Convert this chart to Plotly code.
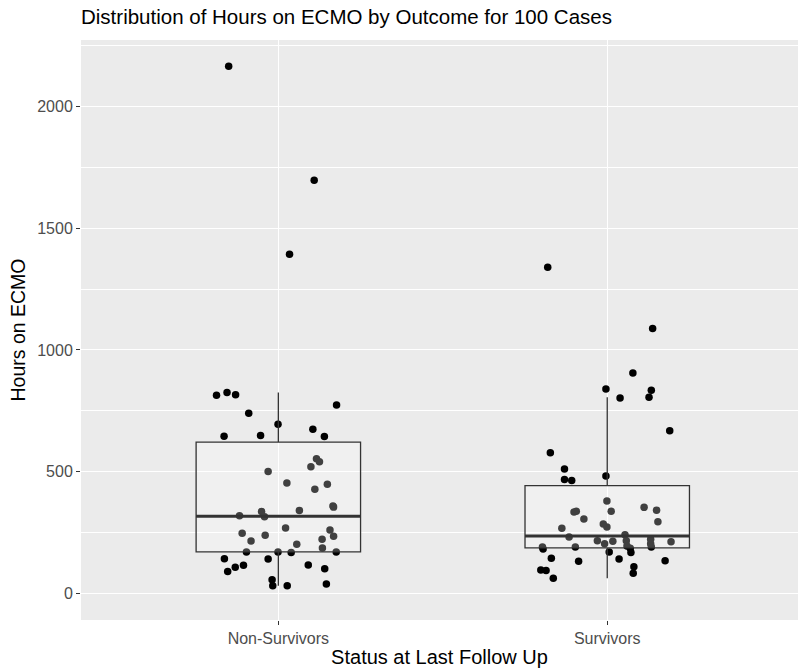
import numpy as np
import plotly.graph_objects as go

# ---------------- data ----------------
categories = ["Non-Survivors", "Survivors"]

non_survivors_hours = [2166, 1698, 1393, 814, 825, 816, 774, 740, 695, 645,
                       648, 674, 644, 553, 540, 520, 500, 453, 427, 448,
                       359, 354, 340, 336, 319, 314, 268, 247, 238, 260,
                       234, 215, 222, 201, 186, 170, 170, 167, 170, 142,
                       89, 107, 115, 141, 116, 101, 55, 31, 31, 38]
non_survivors_jitter = [-0.151, 0.109, 0.034, -0.188, -0.156, -0.130, 0.177, -0.090, -0.001, -0.165,
                        -0.054, 0.105, 0.140, 0.116, 0.125, 0.099, -0.031, 0.026, 0.111, 0.149,
                        0.166, 0.168, 0.064, -0.051, -0.118, -0.042, 0.022, -0.110, -0.040, 0.157,
                        0.168, -0.083, 0.133, 0.056, 0.134, -0.097, -0.001, 0.039, 0.176, -0.164,
                        -0.154, -0.131, -0.106, -0.031, 0.091, 0.141, -0.019, -0.017, 0.027, 0.146]

survivors_hours = [1340, 1088, 905, 840, 803, 834, 806, 668, 577, 511,
                   468, 463, 482, 379, 334, 337, 337, 305, 353, 341,
                   294, 267, 285, 272, 231, 240, 216, 214, 216, 222,
                   212, 203, 203, 194, 190, 190, 190, 185, 182, 170,
                   167, 144, 131, 141, 134, 109, 96, 93, 82, 62]
survivors_jitter = [-0.181, 0.138, 0.078, -0.004, 0.039, 0.134, 0.127, 0.190, -0.173, -0.130,
                    -0.130, -0.108, -0.004, -0.001, -0.101, -0.094, 0.012, -0.071, 0.112, 0.150,
                    0.154, -0.138, -0.012, -0.001, -0.116, 0.054, -0.030, 0.017, 0.058, 0.132,
                    0.194, 0.132, -0.008, 0.060, -0.197, -0.097, 0.134, 0.070, -0.195, 0.006,
                    0.072, -0.170, -0.087, 0.036, 0.176, 0.081, -0.202, -0.186, 0.079, -0.164]

y_ticks = [0, 500, 1000, 1500, 2000]

groups = [non_survivors_hours, survivors_hours]
jitters = [non_survivors_jitter, survivors_jitter]

# ---------------- box statistics (ggplot style, type-7 quantiles) ----------------
q1, med, q3, lo, hi = [], [], [], [], []
for vals in groups:
    v = np.array(vals, dtype=float)
    a, m, b = np.percentile(v, [25, 50, 75])
    iqr = b - a
    q1.append(a); med.append(m); q3.append(b)
    lo.append(v[v >= a - 1.5 * iqr].min())
    hi.append(v[v <= b + 1.5 * iqr].max())

BOX_W = 0.5
FONT = "Liberation Sans, Arial, sans-serif"

fig = go.Figure()

# jittered points
px, py = [], []
for i, (vals, jit) in enumerate(zip(groups, jitters)):
    px += [i + j for j in jit]
    py += list(vals)
fig.add_trace(go.Scatter(x=px, y=py, mode="markers",
                         marker=dict(size=7.5, color="black"),
                         showlegend=False, hoverinfo="y"))

# boxes (on an overlay axis so they sit above the points)
fig.add_trace(go.Box(x=list(range(len(categories))), q1=q1, median=med, q3=q3,
                     lowerfence=lo, upperfence=hi, width=BOX_W, whiskerwidth=0,
                     fillcolor="rgba(255,255,255,0.25)",
                     line=dict(color="#333333", width=1.3),
                     boxpoints=False, showlegend=False,
                     xaxis="x2", yaxis="y2"))

# thick median lines (ggplot fatten)
mx, my = [], []
for i, m in enumerate(med):
    mx += [i - BOX_W / 2, i + BOX_W / 2, None]
    my += [m, m, None]
fig.add_trace(go.Scatter(x=mx, y=my, mode="lines",
                         line=dict(color="#333333", width=3),
                         showlegend=False, hoverinfo="skip",
                         xaxis="x2", yaxis="y2"))

XR = [-0.6, 1.58]
YR = [-110, 2274]

fig.update_layout(
    width=798, height=670,
    margin=dict(l=81, r=0, t=40, b=50, pad=0),
    paper_bgcolor="white", plot_bgcolor="#ebebeb",
    font=dict(family=FONT, color="black"),
    title=dict(text="Distribution of Hours on ECMO by Outcome for 100 Cases",
               x=81 / 798, xanchor="left", xref="container",
               y=1 - 17 / 670, yanchor="middle", yref="container",
               font=dict(size=20.5, color="black", family=FONT)),
    xaxis=dict(range=XR, tickvals=list(range(len(categories))), ticktext=categories,
               showgrid=True, gridcolor="white", gridwidth=1.3, zeroline=False,
               ticks="outside", ticklen=4, tickwidth=1, tickcolor="#333333",
               tickfont=dict(size=16, color="#4d4d4d"),
               title=dict(text="Status at Last Follow Up", font=dict(size=20, color="black"),
                          standoff=3),
               automargin=False, fixedrange=True),
    yaxis=dict(range=YR, tickvals=y_ticks, ticktext=[str(t) for t in y_ticks],
               showgrid=True, gridcolor="white", gridwidth=1.3, zeroline=False,
               ticks="outside", ticklen=4, tickwidth=1, tickcolor="#333333",
               tickfont=dict(size=16, color="#4d4d4d"),
               minor=dict(dtick=250, tick0=0, showgrid=True, gridcolor="white",
                          gridwidth=0.6, ticks=""),
               title=dict(text="Hours on ECMO", font=dict(size=19.5, color="black"),
                          standoff=6),
               automargin=False, fixedrange=True),
    xaxis2=dict(range=XR, overlaying="x", visible=False, fixedrange=True),
    yaxis2=dict(range=YR, overlaying="y", visible=False, fixedrange=True),
)

fig.write_html("out.html", config={"displayModeBar": False},
               post_script="document.body.style.margin='0';document.body.style.overflow='hidden';")
